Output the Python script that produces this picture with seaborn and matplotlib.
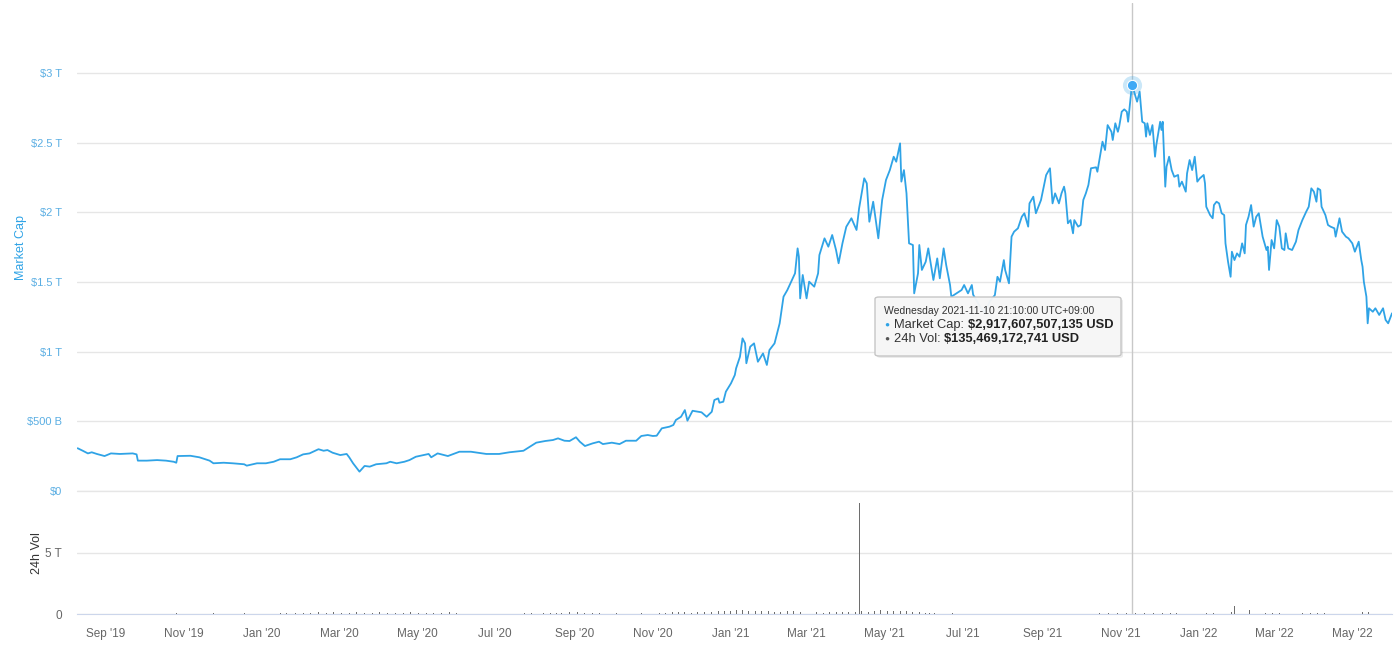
import matplotlib
matplotlib.use("Agg")
import matplotlib.pyplot as plt
import matplotlib.dates as mdates
from matplotlib.patches import FancyBboxPatch
import seaborn as sns
import pandas as pd

sns.set_style("white")
plt.rcParams["font.family"] = ["Liberation Sans", "DejaVu Sans"]

start = pd.Timestamp("2019-08-10")

# market cap: days after start -> trillions USD
cap_day = [0, 4, 8, 11, 15, 21, 26, 33, 43, 46, 47, 54, 62, 69, 75, 77, 78, 88, 95, 103,
           106, 114, 121, 130, 132, 140, 147, 153, 158, 166, 171, 176, 181, 188, 192, 195, 199, 205, 210, 212,
           215, 218, 220, 224, 228, 233, 241, 244, 249, 255, 259, 264, 270, 274, 276, 281, 289, 298, 307, 319,
           329, 337, 348, 353, 358, 365, 371, 375, 380, 384, 389, 392, 396, 402, 407, 410, 417, 423, 428, 436,
           440, 445, 449, 452, 456, 462, 465, 467, 471, 474, 476, 480, 487, 491, 495, 497, 500, 501, 504, 506,
           510, 513, 514, 517, 519, 521, 522, 525, 528, 531, 535, 538, 540, 544, 548, 551, 554, 557, 560, 562,
           563, 564, 566, 569, 571, 575, 578, 579, 583, 586, 589, 592, 594, 597, 600, 604, 608, 610, 614, 616,
           618, 621, 625, 628, 631, 634, 637, 639, 642, 643, 645, 647, 649, 652, 653, 656, 657, 659, 662, 664,
           668, 671, 673, 676, 678, 681, 682, 690, 692, 695, 698, 699, 704, 708, 712, 716, 718, 720, 723, 724,
           727, 729, 731, 734, 737, 739, 742, 743, 746, 748, 752, 756, 759, 761, 763, 766, 768, 770, 771, 773,
           775, 777, 778, 781, 783, 785, 787, 789, 791, 795, 796, 798, 800, 802, 804, 807, 808, 810, 812, 813,
           815, 817, 819, 820, 822, 823, 827, 829, 831, 833, 834, 835, 837, 839, 841, 842, 845, 846, 847, 849,
           850, 852, 854, 856, 859, 860, 862, 865, 866, 868, 870, 872, 874, 876, 879, 880, 881, 884, 886, 887,
           889, 891, 893, 895, 896, 898, 900, 901, 903, 905, 907, 909, 911, 912, 914, 916, 918, 920, 922, 925,
           928, 929, 930, 932, 934, 936, 938, 940, 942, 943, 945, 948, 951, 953, 956, 959, 961, 963, 965, 967,
           968, 970, 971, 974, 976, 978, 981, 982, 985, 987, 990, 992, 995, 997, 1000, 1002, 1003, 1004, 1006, 1007,
           1008, 1011, 1013, 1016, 1019, 1021, 1023, 1026]
cap_tn = [.307, .289, .270, .278, .266, .251, .270, .266, .270, .263, .218, .218, .222, .218, .210, .203, .251, .253, .242, .218,
          .199, .203, .199, .192, .182, .199, .199, .210, .228, .228, .242, .263, .270, .300, .289, .294, .275, .258, .266, .242,
          .199, .163, .139, .180, .175, .192, .199, .210, .199, .210, .222, .246, .258, .266, .242, .270, .251, .282, .282, .266,
          .266, .278, .289, .318, .347, .359, .366, .378, .361, .359, .386, .354, .323, .342, .354, .337, .347, .337, .361, .361,
          .395, .402, .395, .397, .450, .462, .474, .510, .533, .581, .505, .576, .565, .533, .569, .653, .665, .634, .641, .713,
          .773, .833, .881, .964, 1.096, 1.060, .917, 1.036, 1.060, .928, .988, .905, 1.012, 1.060, 1.204, 1.395, 1.443, 1.503, 1.563, 1.742,
          1.682, 1.383, 1.551, 1.383, 1.503, 1.467, 1.563, 1.694, 1.814, 1.754, 1.838, 1.730, 1.635, 1.778, 1.897, 1.958, 1.874, 2.029, 2.245, 2.209,
          1.933, 2.077, 1.814, 2.089, 2.233, 2.304, 2.400, 2.364, 2.496, 2.221, 2.304, 2.137, 1.778, 1.766, 1.419, 1.563, 1.766, 1.587, 1.646, 1.742,
          1.515, 1.670, 1.527, 1.742, 1.622, 1.479, 1.395, 1.443, 1.479, 1.419, 1.479, 1.410, 1.330, 1.280, 1.360, 1.407, 1.538, 1.503, 1.658, 1.587,
          1.491, 1.826, 1.862, 1.886, 1.969, 1.994, 1.898, 2.065, 2.113, 1.994, 2.089, 2.268, 2.317, 2.065, 2.137, 2.065, 2.137, 2.185, 2.137, 1.922,
          1.945, 1.850, 1.945, 1.898, 1.910, 2.089, 2.137, 2.197, 2.317, 2.324, 2.292, 2.400, 2.508, 2.448, 2.627, 2.579, 2.520, 2.640, 2.579, 2.615,
          2.723, 2.740, 2.723, 2.651, 2.830, 2.9176, 2.795, 2.867, 2.651, 2.640, 2.544, 2.640, 2.556, 2.627, 2.400, 2.484, 2.651, 2.592, 2.651, 2.185,
          2.328, 2.400, 2.304, 2.256, 2.269, 2.185, 2.221, 2.149, 2.280, 2.376, 2.304, 2.400, 2.221, 2.245, 2.269, 2.209, 2.041, 1.981, 1.958, 2.053,
          2.077, 2.065, 1.994, 1.981, 1.778, 1.646, 1.538, 1.718, 1.658, 1.706, 1.682, 1.778, 1.706, 1.910, 1.969, 2.053, 1.898, 1.969, 1.994, 1.826,
          1.730, 1.754, 1.587, 1.802, 1.742, 1.945, 1.898, 1.742, 1.730, 1.850, 1.742, 1.730, 1.790, 1.874, 1.945, 2.005, 2.041, 2.173, 2.149, 2.077,
          2.173, 2.161, 2.041, 1.981, 1.910, 1.898, 1.886, 1.826, 1.958, 1.862, 1.826, 1.814, 1.778, 1.718, 1.790, 1.658, 1.610, 1.503, 1.395, 1.204,
          1.312, 1.287, 1.312, 1.264, 1.312, 1.228, 1.204, 1.276]

# 24h volume: days after start -> trillions USD
vol_day = [77, 106, 130, 158, 163,
           170, 176, 182, 188, 194, 200, 206, 212, 218, 224, 230, 236, 242, 248, 254, 260, 266, 272, 278, 284, 290, 296,
           349, 354, 364, 369, 374, 378, 384, 390, 396, 402, 407, 421, 440,
           454, 459, 464, 469, 474, 479, 484, 489,
           495, 500, 505, 510, 514, 519, 524, 529, 534, 539, 544, 549, 554, 559, 564,
           577, 582, 587, 592, 597, 602, 607,
           610,
           612, 617, 622, 627, 632, 637, 642, 647, 652, 657, 662, 665,
           669, 683,
           798, 805, 812, 819, 826, 833, 840, 847, 853,
           858, 881, 887, 901, 903, 915, 927, 933, 938, 956, 962, 968, 973, 1003, 1008]
vol_tn = [.08, .06, .06, .10, .08,
          .10, .12, .10, .14, .11, .13, .10, .12, .15, .11, .10, .13, .12, .10, .11, .14, .12, .10, .12, .11, .13, .10,
          .08, .08, .12, .10, .11, .10, .15, .20, .12, .10, .08, .06, .06,
          .12, .10, .15, .13, .18, .12, .14, .16,
          .20, .22, .28, .25, .35, .30, .24, .26, .22, .28, .20, .18, .25, .22, .16,
          .14, .12, .16, .18, .13, .15, .20,
          9.1,
          .25, .20, .22, .30, .28, .24, .26, .22, .18, .15, .12, .10,
          .06, .06,
          .10, .12, .08, .10, .09, .11, .10, .08, .09,
          .08, .10, .10, .15, .65, .30, .08, .08, .08, .10, .12, .08, .10, .18, .15]

cap_ticks = [0, 0.5, 1, 1.5, 2, 2.5, 3]
cap_labels = ["$0", "$500 B", "$1 T", "$1.5 T", "$2 T", "$2.5 T", "$3 T"]
vol_ticks = [0, 5]
vol_labels = ["0", "5 T"]

hover_day = 823
hover_cap = 2.917607507135
tip_time = "Wednesday 2021-11-10 21:10:00 UTC+09:00"
tip_cap = "$2,917,607,507,135 USD"
tip_vol = "$135,469,172,741 USD"

assert len(cap_day) == len(cap_tn) and len(vol_day) == len(vol_tn)

cap_df = pd.DataFrame({"date": start + pd.to_timedelta(cap_day, unit="D"), "cap": cap_tn})
vol_df = pd.DataFrame({"date": start + pd.to_timedelta(vol_day, unit="D"), "vol": vol_tn})
hover_date = start + pd.Timedelta(days=hover_day)

BLUE = "#2fa3e6"
fig = plt.figure(figsize=(14, 6.47), dpi=100)
ax = fig.add_axes([0.055, 0.2411, 0.9393, 0.7535])
axv = fig.add_axes([0.055, 0.051, 0.9393, 0.1886], sharex=ax)

sns.lineplot(data=cap_df, x="date", y="cap", ax=ax, color=BLUE, linewidth=1.3,
             estimator=None, sort=False, zorder=3)
axv.bar(vol_df["date"], vol_df["vol"], width=0.8, color="#6e6e6e",
        edgecolor="none", linewidth=0, zorder=3)

ax.set_ylim(0, 3.5)
ax.set_yticks(cap_ticks)
ax.set_yticklabels(cap_labels)
axv.set_ylim(0, 10)
axv.set_yticks(vol_ticks)
axv.set_yticklabels(vol_labels)
ax.set_xlim(start - pd.Timedelta(hours=12), start + pd.Timedelta(days=1026))

for a in (ax, axv):
    a.yaxis.grid(True, color="#e6e6e6", linewidth=1)
    a.xaxis.grid(False)
    for s in a.spines.values():
        s.set_visible(False)
    a.set_facecolor("none")
    a.axvline(hover_date, color="#c8c8c8", linewidth=1, zorder=2)
ax.axhline(0, color="#e6e6e6", linewidth=1, clip_on=False, zorder=1)

ax.tick_params(axis="y", length=0, pad=11, labelsize=8, labelcolor="#5aaee3")
ax.tick_params(axis="x", bottom=False, labelbottom=False)
ax.set_xlabel("")
ax.set_ylabel("Market Cap", color=BLUE, fontsize=9)

axv.spines["bottom"].set_visible(True)
axv.spines["bottom"].set_color("#ccd6eb")
axv.tick_params(axis="y", length=0, pad=11, labelsize=8.5, labelcolor="#666666")
axv.tick_params(axis="x", length=7, width=1, color="#ccd6eb", labelsize=8.5,
                labelcolor="#666666", pad=3)
axv.xaxis.set_major_locator(mdates.MonthLocator(bymonth=[1, 3, 5, 7, 9, 11]))
axv.xaxis.set_major_formatter(mdates.DateFormatter("%b '%y"))
axv.set_xlabel("")
axv.set_ylabel("24h Vol", color="#333333", fontsize=9)
ax.yaxis.set_label_coords(-0.038, 0.5)
axv.yaxis.set_label_coords(-0.026, 0.5)

# hovered point
ax.scatter([hover_date], [hover_cap], s=190, color=BLUE, alpha=0.25, linewidth=0, zorder=4)
ax.scatter([hover_date], [hover_cap], s=55, color="#3fa9f5", edgecolor="white",
           linewidth=0.8, zorder=5)

# tooltip
W, H = 1400, 647
def fx(px):
    return px / W
def fy(py):
    return 1 - py / H

box = FancyBboxPatch((fx(875), fy(356)), fx(1121) - fx(875), fy(297) - fy(356),
                     boxstyle="round,pad=0,rounding_size=0.003", transform=fig.transFigure,
                     facecolor="#f7f7f7", edgecolor="#c4c4c4", linewidth=1, alpha=0.96, zorder=10)
shadow = FancyBboxPatch((fx(877), fy(358)), fx(1121) - fx(875), fy(297) - fy(356),
                        boxstyle="round,pad=0,rounding_size=0.003", transform=fig.transFigure,
                        facecolor="#000000", edgecolor="none", alpha=0.08, zorder=9)
fig.patches.extend([shadow, box])

fig.text(fx(884), fy(311), tip_time, fontsize=7.5, color="#333333", va="center", zorder=11)
fig.text(fx(884), fy(325), "\u25cf", fontsize=6, color=BLUE, va="center", zorder=11)
fig.text(fx(884), fy(339), "\u25cf", fontsize=6, color="#555555", va="center", zorder=11)
renderer = fig.canvas.get_renderer()
for yy, lab, val in [(325, "Market Cap: ", tip_cap), (339, "24h Vol: ", tip_vol)]:
    t = fig.text(fx(894), fy(yy), lab, fontsize=9.3, color="#333333", va="center", zorder=11)
    bb = t.get_window_extent(renderer)
    fig.text(fx(bb.x1), fy(yy), val, fontsize=9.3, color="#222222", fontweight="bold",
             va="center", zorder=11)

fig.savefig("out.png", dpi=100, facecolor="white")
